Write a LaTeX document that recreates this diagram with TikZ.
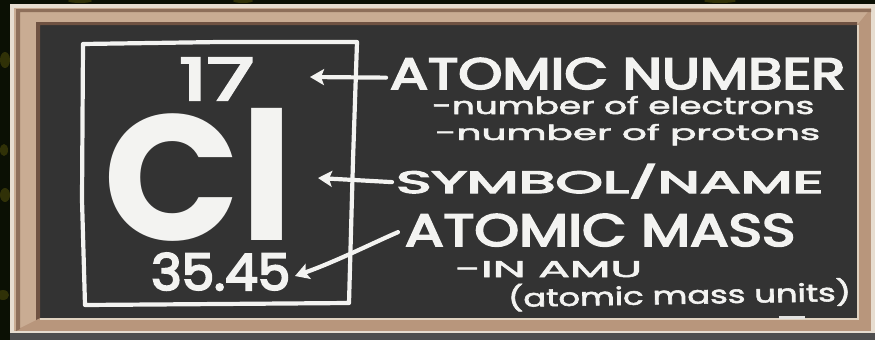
\documentclass[tikz,border=0pt]{standalone}
\usepackage{fontspec}
\setmainfont{Poppins}
\newfontfamily\chalkheavy{Poppins}[FakeBold=4]
\newfontfamily\chalkmed{Poppins}[FakeBold=2.2]
\usepackage{graphicx}
\usetikzlibrary{arrows.meta}
\definecolor{outerbg}{HTML}{0B1004}
\definecolor{blob}{HTML}{5E5A0C}
\definecolor{board}{HTML}{333333}
\definecolor{tanlight}{HTML}{C9AC93}
\definecolor{tandark}{HTML}{B8967C}
\definecolor{outerbrown}{HTML}{8E6F5A}
\definecolor{innerbrown}{HTML}{6F5242}
\definecolor{cream}{HTML}{E7DDD0}
\definecolor{edgelight}{HTML}{E0D2C0}
\definecolor{chalk}{HTML}{F3F3F1}
\definecolor{shadowgrey}{HTML}{4E4E4E}
\tikzset{
  chalkline/.style={draw=chalk, line width=4.2pt, line cap=round, line join=round},
  chalkarrow/.style={chalkline, -{Stealth[length=14pt,width=16pt,inset=3pt]}},
  lbl/.style={anchor=base west, inner sep=0pt, text=chalk},
  blobstyle/.style={fill=blob, opacity=0.45},
}
\begin{document}
\begin{tikzpicture}[x=1pt,y=-1pt]
\useasboundingbox (0,0) rectangle (875,340);
% outside background
\fill[outerbg] (0,0) rectangle (875,340);
\fill[blobstyle] (5,60) ellipse (5 and 8);
\fill[blobstyle] (4,150) ellipse (4 and 6);
\fill[blobstyle] (5,195) ellipse (5 and 7);
\fill[blobstyle] (3,295) ellipse (6 and 5);
\fill[blobstyle] (80,1) ellipse (12 and 2);
\fill[blobstyle] (243,1) ellipse (10 and 2);
\fill[blobstyle] (720,1) ellipse (16 and 2);
% frame
\fill[shadowgrey] (10,332) rectangle (875,340);
\fill[cream] (10,4) rectangle (875,333);
\fill[tandark] (14,8) rectangle (871,331);
\fill[tanlight] (14,8) -- (871,8) -- (857,25) -- (40,25) -- (40,318) -- (14,331) -- cycle;
\fill[outerbrown] (16,9) -- (871,9) -- (871,12) -- (20,12) -- (20,329) -- (16,331) -- cycle;
\fill[board] (40,25) rectangle (857,318);
\fill[innerbrown] (36,22) -- (857,22) -- (857,25) -- (40,25) -- (40,318) -- (36,320) -- cycle;
\draw[edgelight, line width=2pt] (858,25) -- (858,319) -- (40,319);
\fill[chalk!85!gray] (779,316) rectangle (805,319);
% chalk box
\draw[chalkline] (83,44) -- (220,42) -- (357,42) -- (353,160) -- (349,303) -- (220,304) -- (85,305) -- (82,200) -- cycle;
% element entries
\node[lbl] (num) at (179,100) {\resizebox{75pt}{42pt}{\chalkheavy 17}};
\node[lbl] (sym) at (103,240) {\resizebox{190pt}{132pt}{\bfseries Cl}};
\node[lbl] (mass) at (151,290) {\resizebox{139pt}{37pt}{\chalkheavy 35.45}};
% labels
\node[lbl] (an) at (390,89) {\resizebox{455pt}{31pt}{\chalkheavy ATOMIC NUMBER}};
\node[lbl] (e1) at (432,114) {\resizebox{382pt}{18pt}{\chalkmed -number of electrons}};
\node[lbl] (e2) at (435,140) {\resizebox{385pt}{16pt}{\chalkmed -number of protons}};
\node[lbl] (sn) at (396,193) {\resizebox{427pt}{29pt}{\chalkheavy SYMBOL/NAME}};
\node[lbl] (am) at (405,246) {\resizebox{390pt}{32pt}{\chalkheavy ATOMIC MASS}};
\node[lbl] (amu) at (455,277) {\resizebox{187pt}{16pt}{\chalkmed -IN AMU}};
\node[lbl, rotate=1] (units) at (508,307) {\resizebox{343pt}{23pt}{\chalkmed (atomic mass units)}};
% arrows
\coordinate (t1) at (310,77);
\coordinate (t2) at (318,178);
\coordinate (t3) at (295,276);
\draw[chalkarrow] ([shift={(-4,4)}]an.west) -- (t1);
\draw[chalkarrow] ([shift={(-4,1)}]sn.west) -- (t2);
\draw[chalkarrow] ([shift={(-7,2)}]am.west) .. controls (375,242) and (335,262) .. (t3);
\end{tikzpicture}
\end{document}
